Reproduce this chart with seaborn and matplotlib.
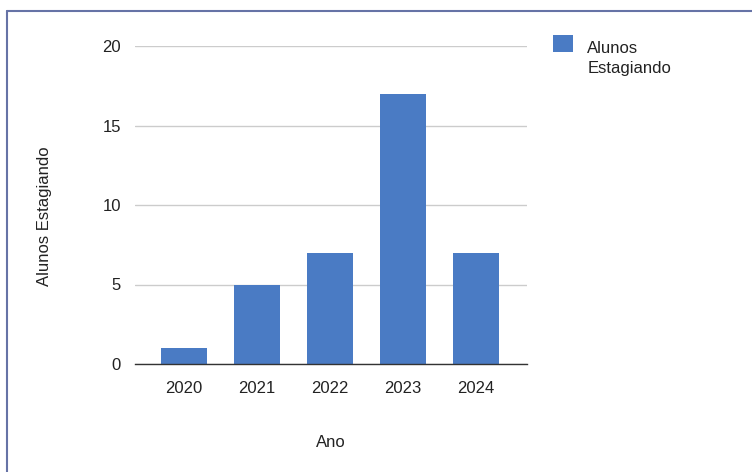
import matplotlib
matplotlib.use("Agg")
import matplotlib.pyplot as plt
from matplotlib.patches import Patch, Rectangle
from matplotlib.legend_handler import HandlerPatch
from matplotlib.lines import Line2D
import seaborn as sns
import pandas as pd

anos = ["2020", "2021", "2022", "2023", "2024"]
alunos = [1, 5, 7, 17, 7]
y_ticks = [0, 5, 10, 15, 20]
serie = "Alunos\nEstagiando"
x_titulo = "Ano"
y_titulo = "Alunos Estagiando"

sns.set_theme(style="white")
plt.rcParams["font.family"] = ["Liberation Sans", "DejaVu Sans"]
fs = 12
txt = "#222222"

df = pd.DataFrame({"Ano": anos, "Alunos": alunos})
bar_color = "#4a7bc4"

fig = plt.figure(figsize=(7.52, 4.72), dpi=100)
ax = fig.add_axes([135 / 752, 1 - 364 / 472, (527 - 135) / 752, (364 - 46) / 472])
sns.barplot(data=df, x="Ano", y="Alunos", color=bar_color, width=0.63,
            saturation=1, ax=ax, zorder=3)
for p in ax.patches:
    p.set_edgecolor("none")

ax.set_xlim(-0.67, 4.70)
ax.set_ylim(0, 20)
ax.set_yticks(y_ticks)
ax.set_yticklabels([str(v) for v in y_ticks])
ax.yaxis.grid(True, color="#cccccc", linewidth=1.0, zorder=0)
ax.xaxis.grid(False)
for s in ["top", "right", "left"]:
    ax.spines[s].set_visible(False)
ax.spines["bottom"].set_color("#333333")
ax.spines["bottom"].set_linewidth(1.0)
ax.spines["bottom"].set_zorder(4)
ax.tick_params(axis="both", length=0, colors=txt, labelsize=fs)
ax.tick_params(axis="y", pad=10)
ax.tick_params(axis="x", pad=12.5)
ax.set_xlabel(x_titulo, fontsize=fs, color=txt, labelpad=28)
ax.set_ylabel(y_titulo, fontsize=fs, color=txt)
ax.yaxis.set_label_coords(-0.212, 0.465)


def top_square(legend, orig_handle, xdescent, ydescent, width, height, fontsize):
    return Rectangle((-xdescent, -ydescent + 0.95 * fontsize), width, height)


handle = Patch(facecolor=bar_color, edgecolor="none")
leg = fig.legend([handle], [serie], loc="upper left",
                 bbox_to_anchor=(538 / 752, 1 - 26 / 472), frameon=False,
                 fontsize=fs, handlelength=1.2, handleheight=1.2,
                 handletextpad=0.85, labelcolor=txt,
                 handler_map={Patch: HandlerPatch(patch_func=top_square)})
for t in leg.get_texts():
    t.set_linespacing(1.45)

# frame border
fig.add_artist(Line2D([6.5 / 752, 6.5 / 752], [0, 1 - 11 / 472],
                      transform=fig.transFigure, color="#6673a6", linewidth=1.5))
fig.add_artist(Line2D([6.5 / 752, 1], [1 - 11 / 472, 1 - 11 / 472],
                      transform=fig.transFigure, color="#6673a6", linewidth=1.5))

fig.savefig("out.png", dpi=100)
